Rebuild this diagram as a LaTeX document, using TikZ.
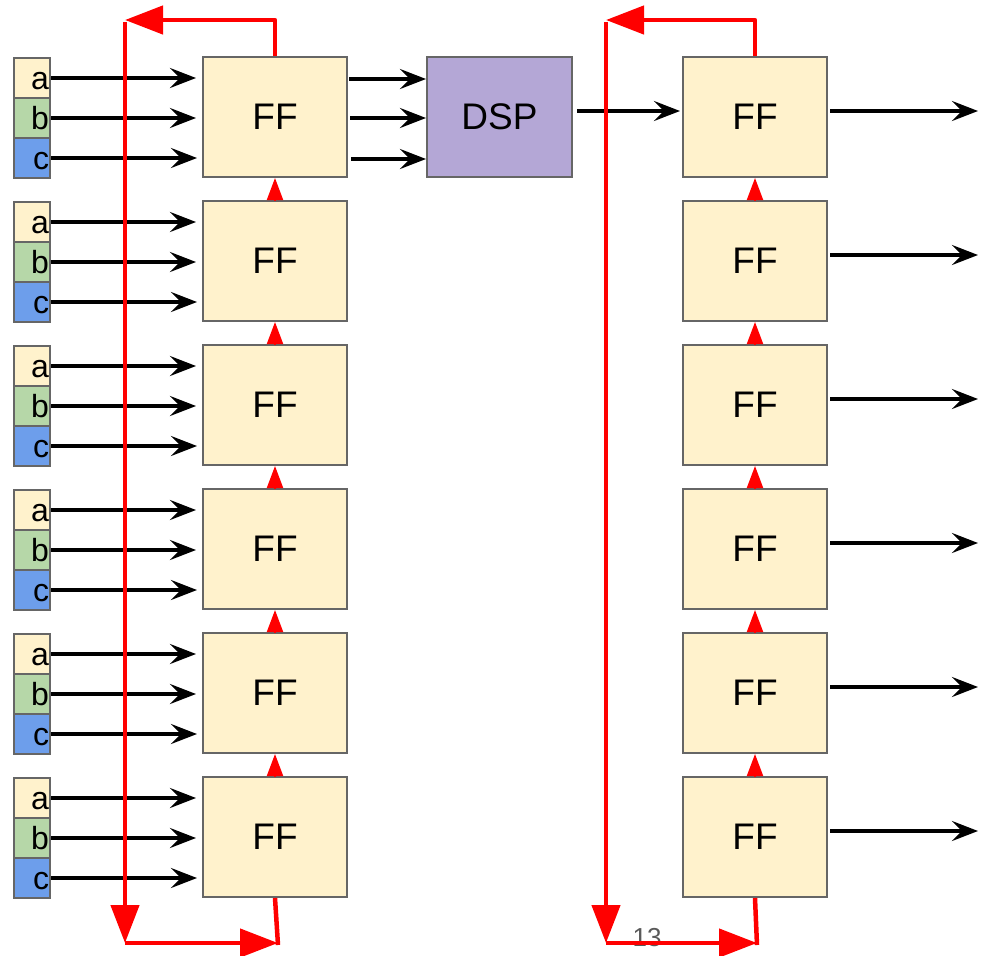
\documentclass[tikz,border=0pt]{standalone}
\usepackage{fontspec}
\setmainfont{Liberation Sans}
\usetikzlibrary{arrows.meta}
\definecolor{ffc}{HTML}{FFF2CC}
\definecolor{bcol}{HTML}{B6D7A8}
\definecolor{ccol}{HTML}{6D9EEB}
\definecolor{dspc}{HTML}{B4A7D6}
\definecolor{bord}{HTML}{666666}
\definecolor{pgray}{HTML}{595959}
\begin{document}
\begin{tikzpicture}[x=1pt,y=-1pt,
 ffbox/.style={draw=bord, line width=2pt, fill=ffc, minimum width=144pt, minimum height=120pt, inner sep=0pt, font=\fontsize{37}{42}\selectfont},
 cell/.style={draw=bord, line width=2pt, minimum width=36pt, minimum height=40pt, inner sep=0pt, text width=34pt, align=right, text height=24pt, text depth=2pt, font=\fontsize{32}{36}\selectfont},
 blk/.style={line width=3.5pt, -{Stealth[length=26pt,width=20pt,inset=10pt]}},
 redl/.style={red, line width=4.5pt, line join=round},
 bigtip/.style={redl, -{Triangle[length=38pt,width=28pt]}},
 smalltip/.style={red, line width=2pt, -{Triangle[length=22pt,width=16pt]}},
]
\useasboundingbox (0,0) rectangle (983,956);

\foreach \i in {0,...,5}{
  \pgfmathsetmacro\yc{117+144*\i}
  \node[ffbox] (L\i) at (275,\yc) {FF};
  \node[ffbox] (R\i) at (755,\yc) {FF};
  \node[cell, fill=ffc] (a\i) at (32,\yc-39) {a};
  \node[cell, fill=bcol] (b\i) at (32,\yc+1) {b};
  \node[cell, fill=ccol] (c\i) at (32,\yc+41) {c};
  \coordinate (out\i) at (978,\yc-6);
  \draw[blk, shorten >=6pt] (a\i.east) -- (L\i.west |- a\i.east);
  \draw[blk, shorten >=6pt] (b\i.east) -- (L\i.west |- b\i.east);
  \draw[blk, shorten >=5pt] (c\i.east) -- (L\i.west |- c\i.east);
  \draw[blk, shorten <=2pt] (R\i.east |- out\i) -- (out\i);
}

\node[draw=bord, line width=2pt, fill=dspc, minimum width=145pt, minimum height=120pt, inner sep=0pt, font=\fontsize{37}{42}\selectfont] (D) at (499.5,117) {DSP};

\draw[blk, shorten <=1pt] ([yshift=38pt]L0.east) -- ([yshift=38pt]D.west);
\draw[blk, shorten <=2pt] ([yshift=-1pt]L0.east) -- ([yshift=-1pt]D.west);
\draw[blk, shorten <=3pt] ([yshift=-42pt]L0.east) -- ([yshift=-42pt]D.west);
\draw[blk, shorten <=4pt, shorten >=2pt] ([yshift=6pt]D.east) -- ([yshift=6pt]R0.west);

\node[anchor=base, text=pgray, font=\fontsize{26}{28}\selectfont, inner sep=0pt] (pg) at (647,946) {13};

\foreach \i [evaluate=\i as \j using int(\i+1)] in {0,...,4}{
  \draw[smalltip] (L\j.north) -- (L\i.south);
  \draw[smalltip] (R\j.north) -- (R\i.south);
}

% left loop
\coordinate (lt) at (125,20);
\coordinate (ltv) at (125,22);
\coordinate (lb) at (125,943);
\coordinate (lb2) at (278,943);
\draw[bigtip] (L0.north) -- (L0.north |- lt) -- (lt);
\draw[bigtip] (ltv) -- (lb);
\draw[bigtip] (lb) -- (lb2);
\draw[redl] (L5.south) -- ([yshift=-2pt]lb2);

% right loop
\coordinate (rt) at (606,20);
\coordinate (rtv) at (606,22);
\coordinate (rb) at (606,943);
\coordinate (rb2) at (757,943);
\draw[bigtip] (R0.north) -- (R0.north |- rt) -- (rt);
\draw[bigtip] (rtv) -- (rb);
\draw[bigtip] (rb) -- (rb2);
\draw[redl] (R5.south) -- ([yshift=-2pt]rb2);
\end{tikzpicture}
\end{document}
